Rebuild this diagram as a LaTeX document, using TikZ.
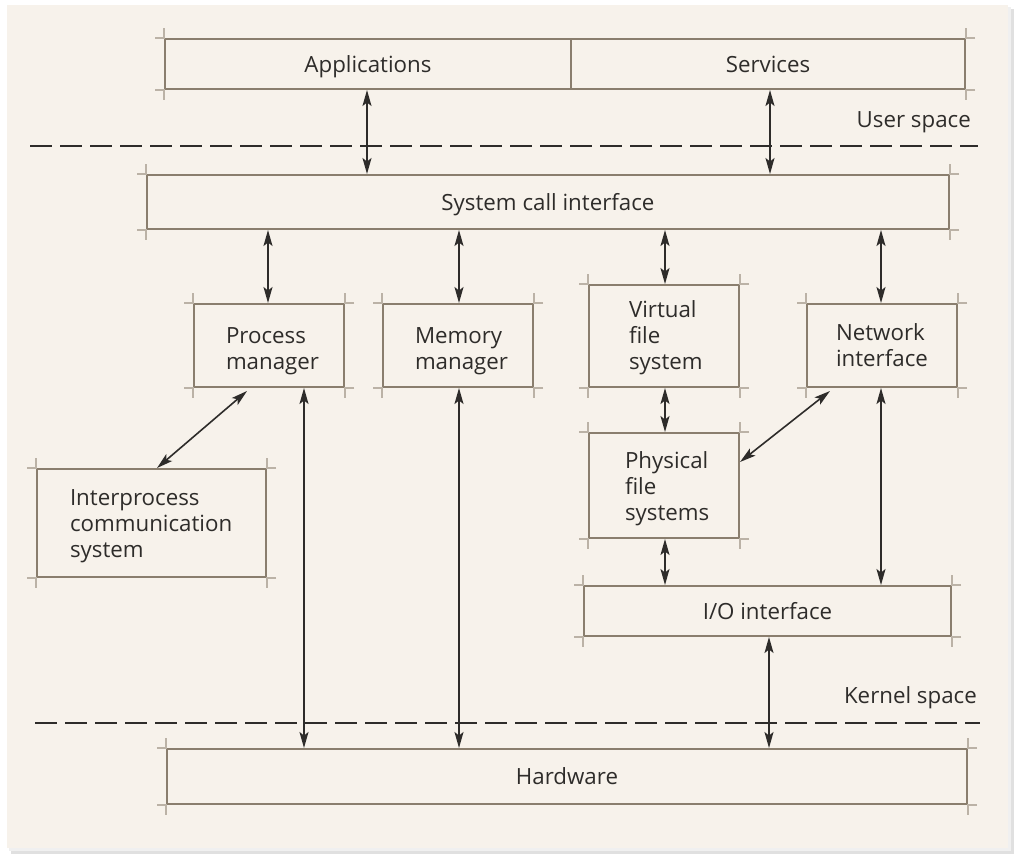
\documentclass[tikz,border=0pt]{standalone}
\usepackage{fontspec}
\setmainfont{Open Sans}
\usetikzlibrary{arrows.meta,calc}
\definecolor{card}{HTML}{F7F2EB}
\definecolor{boxc}{HTML}{8A7E6E}
\definecolor{ink}{HTML}{2E2C2A}
\begin{document}
\begin{tikzpicture}[x=1pt,y=-1pt,
  every node/.style={font=\fontsize{22.3}{26}\selectfont, text=ink},
  box/.style={draw=boxc, line width=2pt, rectangle, inner sep=0pt, align=center, text height=16pt, text depth=0pt},
  lbox/.style n args={4}{draw=boxc, line width=2pt, rectangle, inner ysep=0pt, inner xsep=#1, text width=#2, align=left, minimum height=#3, text height=16pt, text depth=#4},
  over/.style={draw=boxc!55!card, line width=1.6pt},
  tip/.tip={Stealth[length=16pt,width=9pt,inset=3.5pt]},
  arr/.style={draw=ink, line width=1.6pt, tip-tip},
  sep/.style={draw=ink, line width=1.3pt, dash pattern=on 22pt off 8pt},
  lab/.style={anchor=east, inner sep=0pt}
]
% paper
\useasboundingbox (0,0) rectangle (1024,863);
\fill[white] (0,0) rectangle (1024,863);
\fill[black!12] (11,9) rectangle (1014,854);
\fill[black!6] (9,7) rectangle (1011,851);
\fill[card] (7,5) rectangle (1008,848);

% boxes
\node[box, minimum width=406, minimum height=50] (app) at (368,64) {Applications};
\node[box, minimum width=394, minimum height=50] (srv) at (768,64) {Services};
\node[box, minimum width=802, minimum height=54] (sci) at (548,202) {System call interface};
\node[lbox={32pt}{86pt}{83pt}{21pt}] (proc) at (269,345.5) {Process\\manager};
\node[lbox={32pt}{86pt}{83pt}{21pt}] (mem) at (458,345.5) {Memory\\manager};
\node[lbox={40pt}{70pt}{102pt}{53pt}] (vfs) at (664,336) {Virtual\\file\\system};
\node[lbox={29pt}{92pt}{83pt}{27pt}] (net) at (882,345.5) {Network\\interface};
\node[lbox={33pt}{163pt}{108pt}{51pt}] (ipc) at (151.5,523) {Interprocess\\communication\\system};
\node[lbox={36pt}{78pt}{105pt}{51pt}] (phys) at (664,485.5) {Physical\\file\\systems};
\node[box, minimum width=367, minimum height=50] (io) at (767.5,611) {I/O interface};
\node[box, minimum width=800, minimum height=55] (hw) at (567,776.5) {Hardware};

% overshooting corner strokes
\foreach \n in {sci,proc,mem,vfs,net,ipc,phys,io,hw}{
  \draw[over] ([xshift=-9pt]\n.north west) -- (\n.north west) -- ([yshift=10pt]\n.north west);
  \draw[over] ([xshift=9pt]\n.north east) -- (\n.north east) -- ([yshift=10pt]\n.north east);
  \draw[over] ([xshift=-9pt]\n.south west) -- (\n.south west) -- ([yshift=-10pt]\n.south west);
  \draw[over] ([xshift=9pt]\n.south east) -- (\n.south east) -- ([yshift=-10pt]\n.south east);
}
\draw[over] ([xshift=-9pt]app.north west) -- (app.north west) -- ([yshift=10pt]app.north west);
\draw[over] ([xshift=-9pt]app.south west) -- (app.south west) -- ([yshift=-10pt]app.south west);
\draw[over] ([xshift=9pt]srv.north east) -- (srv.north east) -- ([yshift=10pt]srv.north east);
\draw[over] ([xshift=9pt]srv.south east) -- (srv.south east) -- ([yshift=-10pt]srv.south east);

% separators
\draw[sep] (30,146) -- (978,146);
\draw[sep] (35,723) -- (980,723);
\node[lab] (us) at (971,122) {User space};
\node[lab] (ks) at (977,698) {Kernel space};

% column coordinates
\coordinate (xa) at (367,0);
\coordinate (xb) at (770,0);
\coordinate (xc) at (268,0);
\coordinate (xd) at (459,0);
\coordinate (xe) at (665,0);
\coordinate (xf) at (881,0);
\coordinate (xg) at (304,0);
\coordinate (xh) at (769,0);
\coordinate (pd) at (247,0);
\coordinate (id) at (157,0);
\coordinate (nd) at (830,0);
\coordinate (fd) at (0,462);

% connectors
\draw[arr] (app.south -| xa) -- (sci.north -| xa);
\draw[arr] (srv.south -| xb) -- (sci.north -| xb);
\draw[arr] (sci.south -| xc) -- (proc.north -| xc);
\draw[arr] (sci.south -| xd) -- (mem.north -| xd);
\draw[arr] (sci.south -| xe) -- (vfs.north -| xe);
\draw[arr] (sci.south -| xf) -- (net.north -| xf);
\draw[arr] ([yshift=-3pt]proc.south -| pd) -- (ipc.north -| id);
\draw[arr] (proc.south -| xg) -- (hw.north -| xg);
\draw[arr] (mem.south -| xd) -- (hw.north -| xd);
\draw[arr] (vfs.south -| xe) -- (phys.north -| xe);
\draw[arr] ([yshift=-3pt]net.south -| nd) -- (phys.east |- fd);
\draw[arr] (phys.south -| xe) -- (io.north -| xe);
\draw[arr] (net.south -| xf) -- (io.north -| xf);
\draw[arr] (io.south -| xh) -- (hw.north -| xh);
\end{tikzpicture}
\end{document}
